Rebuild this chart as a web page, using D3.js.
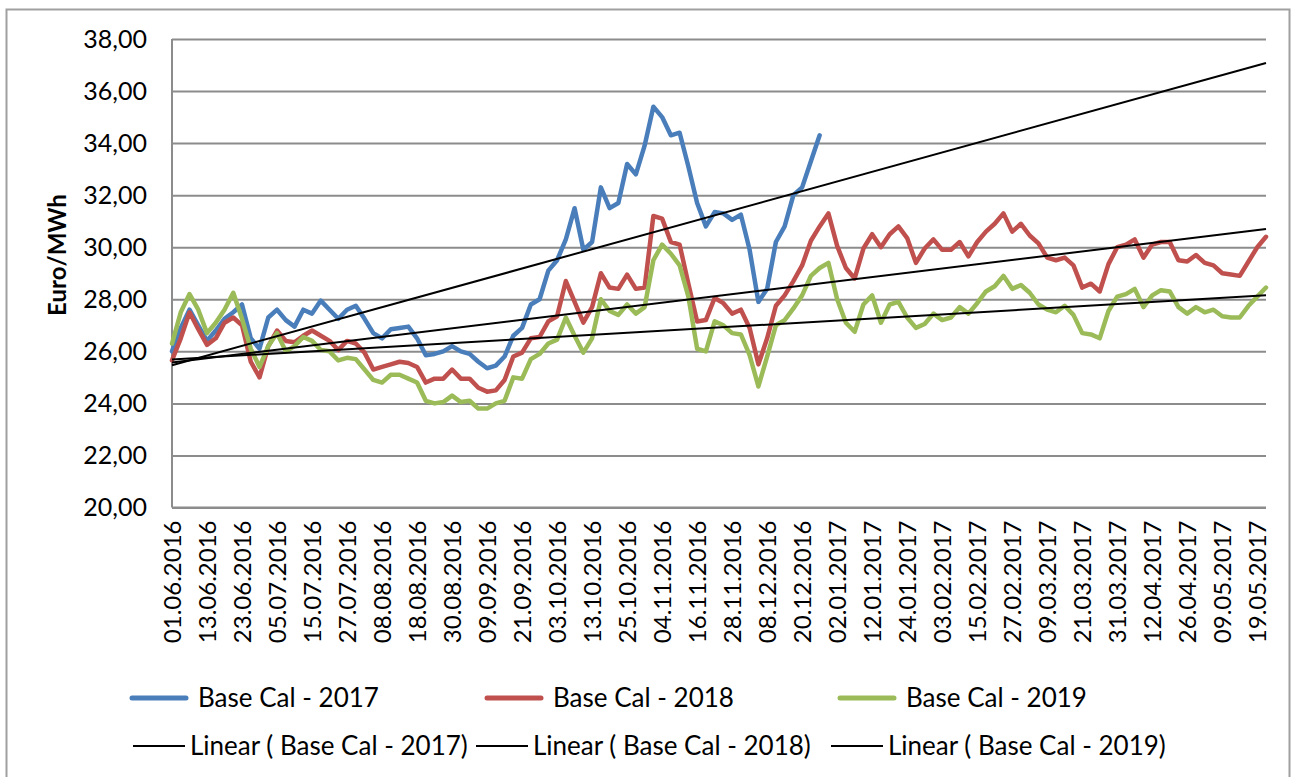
<!DOCTYPE html>
<html lang="de">

<head>
	<title>Base Cal 2017-2019</title>
	<meta charset="utf-8">
	<script src="https://d3js.org/d3.v7.min.js"></script>
	<style>
		body { margin: 0; background: #fff; }
		svg { display: block; font-family: Lato, "Open Sans", sans-serif; }
		.grid line { stroke: #8c8c8c; stroke-width: 2; }
		.grid .domain { display: none; }
	</style>
</head>

<body>
	<div id="chart"></div>
	<script>
		// Data (one value every second trading day, starting 01.06.2016)
		const tickLabels = ["01.06.2016", "13.06.2016", "23.06.2016", "05.07.2016", "15.07.2016", "27.07.2016",
			"08.08.2016", "18.08.2016", "30.08.2016", "09.09.2016", "21.09.2016", "03.10.2016", "13.10.2016",
			"25.10.2016", "04.11.2016", "16.11.2016", "28.11.2016", "08.12.2016", "20.12.2016", "02.01.2017",
			"12.01.2017", "24.01.2017", "03.02.2017", "15.02.2017", "27.02.2017", "09.03.2017", "21.03.2017",
			"31.03.2017", "12.04.2017", "26.04.2017", "09.05.2017", "19.05.2017"];
		const labelStep = 8;   // trading days between axis labels
		const sampleStep = 2;  // trading days between stored values
		const lastDay = 250;

		const base2017 = [26.0, 26.9, 27.6, 27.0, 26.4, 26.8, 27.25, 27.5, 27.8, 26.5,
			26.1, 27.3, 27.6, 27.2, 26.95, 27.6, 27.45, 27.95, 27.6, 27.25,
			27.6, 27.75, 27.25, 26.7, 26.5, 26.85, 26.9, 26.95, 26.5, 25.85,
			25.9, 26.0, 26.2, 26.0, 25.9, 25.6, 25.35, 25.45, 25.8, 26.6,
			26.9, 27.8, 28.0, 29.1, 29.5, 30.3, 31.5, 29.9, 30.2, 32.3,
			31.5, 31.7, 33.2, 32.8, 33.9, 35.4, 35.0, 34.3, 34.4, 33.1,
			31.7, 30.8, 31.35, 31.3, 31.05, 31.25, 29.9, 27.9, 28.4, 30.2,
			30.8, 32.0, 32.3, 33.3, 34.3];

		const base2018 = [25.65, 26.5, 27.5, 26.85, 26.25, 26.5, 27.1, 27.3, 27.0, 25.6,
			25.0, 26.2, 26.8, 26.4, 26.35, 26.6, 26.8, 26.6, 26.4, 26.05,
			26.4, 26.3, 25.95, 25.3, 25.4, 25.5, 25.6, 25.55, 25.4, 24.8,
			24.95, 24.95, 25.3, 24.95, 24.95, 24.6, 24.45, 24.5, 24.9, 25.8,
			25.95, 26.5, 26.55, 27.15, 27.35, 28.7, 27.9, 27.1, 27.7, 29.0,
			28.45, 28.4, 28.95, 28.4, 28.45, 31.2, 31.1, 30.2, 30.1, 28.6,
			27.15, 27.2, 28.05, 27.85, 27.45, 27.6, 26.9, 25.5, 26.5, 27.75,
			28.15, 28.7, 29.3, 30.25, 30.8, 31.3, 30.05, 29.2, 28.8, 29.95,
			30.5, 30.0, 30.5, 30.8, 30.35, 29.4, 29.95, 30.3, 29.9, 29.9,
			30.2, 29.65, 30.2, 30.6, 30.9, 31.3, 30.6, 30.9, 30.45, 30.15,
			29.6, 29.5, 29.6, 29.3, 28.45, 28.6, 28.3, 29.35, 30.0, 30.1,
			30.3, 29.6, 30.1, 30.2, 30.2, 29.5, 29.45, 29.7, 29.4, 29.3,
			29.0, 28.95, 28.9, 29.45, 30.0, 30.4];

		const base2019 = [26.3, 27.5, 28.2, 27.6, 26.7, 27.1, 27.6, 28.25, 27.25, 26.1,
			25.4, 26.2, 26.7, 26.0, 26.2, 26.55, 26.4, 26.05, 26.0, 25.65,
			25.75, 25.7, 25.3, 24.9, 24.8, 25.1, 25.1, 24.95, 24.8, 24.1,
			24.0, 24.05, 24.3, 24.05, 24.1, 23.8, 23.8, 24.0, 24.1, 25.0,
			24.95, 25.7, 25.9, 26.3, 26.45, 27.3, 26.6, 25.95, 26.5, 28.0,
			27.55, 27.4, 27.8, 27.45, 27.7, 29.5, 30.1, 29.75, 29.3, 28.1,
			26.1, 26.0, 27.15, 27.0, 26.7, 26.65, 25.85, 24.65, 25.8, 27.0,
			27.2, 27.65, 28.15, 28.9, 29.2, 29.4, 28.0, 27.1, 26.75, 27.8,
			28.15, 27.1, 27.8, 27.9, 27.3, 26.9, 27.05, 27.45, 27.2, 27.3,
			27.7, 27.45, 27.85, 28.3, 28.5, 28.9, 28.4, 28.55, 28.25, 27.8,
			27.6, 27.5, 27.75, 27.4, 26.7, 26.65, 26.5, 27.55, 28.1, 28.2,
			28.4, 27.7, 28.15, 28.35, 28.3, 27.7, 27.45, 27.7, 27.5, 27.6,
			27.35, 27.3, 27.3, 27.75, 28.1, 28.45];

		const seriesNames = ["Base Cal - 2017", "Base Cal - 2018", "Base Cal - 2019"];
		const seriesValues = [base2017, base2018, base2019];
		const seriesColors = ["#4a7ebb", "#c0504d", "#9bbb59"];

		// Chart dimensions
		const width = 1297;
		const height = 777;
		const margin = { top: 39, right: 31, bottom: 269.5, left: 172 };
		const innerWidth = width - margin.left - margin.right;
		const innerHeight = height - margin.top - margin.bottom;

		const svg = d3.select("#chart")
			.append("svg")
			.attr("width", width)
			.attr("height", height);

		// chart border: top, left and right edges (bottom edge is outside the picture)
		svg.append("path")
			.attr("d", `M6.5,${height} V9.5 H1289.5 V${height}`)
			.style("fill", "none")
			.style("stroke", "#a0a0a0")
			.style("stroke-width", 2);

		const bounds = svg.append("g")
			.attr("transform", `translate(${margin.left},${margin.top})`);

		// Scales
		const x = d3.scaleLinear()
			.domain([0, lastDay])
			.range([0, innerWidth]);

		const y = d3.scaleLinear()
			.domain([20, 38])
			.range([innerHeight, 0]);

		const series = seriesValues.map((vals, i) => ({
			name: seriesNames[i],
			color: seriesColors[i],
			points: vals.map((v, j) => ({ day: j * sampleStep, value: v }))
		}));

		// Gridlines
		const yTicks = d3.range(20, 38.01, 2);
		bounds.append("g")
			.attr("class", "grid")
			.call(d3.axisLeft(y).tickValues(yTicks).tickSize(-innerWidth).tickFormat(""));

		// Axis lines
		bounds.append("line")
			.attr("x1", 0).attr("x2", 0)
			.attr("y1", 0).attr("y2", innerHeight)
			.style("stroke", "#8c8c8c").style("stroke-width", 2);
		bounds.append("line")
			.attr("x1", 0).attr("x2", innerWidth)
			.attr("y1", innerHeight).attr("y2", innerHeight)
			.style("stroke", "#8c8c8c").style("stroke-width", 2);

		// Y axis labels
		const yAxis = bounds.append("g")
			.call(d3.axisLeft(y)
				.tickValues(yTicks)
				.tickSize(0)
				.tickPadding(25)
				.tickFormat(d => d.toFixed(2).replace(".", ",")));
		yAxis.select(".domain").remove();
		yAxis.selectAll("text")
			.style("font-family", "Lato, sans-serif")
			.style("font-size", "25px")
			.style("fill", "#000");

		// X axis labels (rotated)
		const xAxis = bounds.append("g")
			.attr("transform", `translate(0,${innerHeight})`)
			.call(d3.axisBottom(x)
				.tickValues(tickLabels.map((d, i) => i * labelStep))
				.tickSize(0)
				.tickFormat((d, i) => tickLabels[i]));
		xAxis.select(".domain").remove();
		xAxis.selectAll("text")
			.attr("transform", "rotate(-90)")
			.attr("x", -13)
			.attr("y", 0)
			.attr("dy", "0.36em")
			.style("text-anchor", "end")
			.style("font-family", "Lato, sans-serif")
			.style("font-size", "24px")
			.style("fill", "#000");

		// Y axis title
		svg.append("text")
			.attr("transform", "translate(66, 255) rotate(-90)")
			.attr("text-anchor", "middle")
			.style("font-size", "24px")
			.style("font-weight", "bold")
			.style("fill", "#000")
			.text("Euro/MWh");

		// Lines
		const line = d3.line()
			.x(d => x(d.day))
			.y(d => y(d.value));

		bounds.selectAll(".series")
			.data(series)
			.enter().append("path")
			.attr("class", "series")
			.attr("d", d => line(d.points))
			.style("fill", "none")
			.style("stroke", d => d.color)
			.style("stroke-width", 4.5)
			.style("stroke-linejoin", "round")
			.style("stroke-linecap", "round");

		// Linear trend lines (least squares over the days with values)
		function linearFit(points) {
			const mx = d3.mean(points, d => d.day);
			const my = d3.mean(points, d => d.value);
			const sxy = d3.sum(points, d => (d.day - mx) * (d.value - my));
			const sxx = d3.sum(points, d => (d.day - mx) ** 2);
			const slope = sxy / sxx;
			return day => my + slope * (day - mx);
		}

		bounds.selectAll(".trend")
			.data(series)
			.enter().append("line")
			.attr("class", "trend")
			.each(function (d) {
				const f = linearFit(d.points);
				d3.select(this)
					.attr("x1", x(0)).attr("y1", y(f(0)))
					.attr("x2", x(lastDay)).attr("y2", y(f(lastDay)));
			})
			.style("stroke", "#000")
			.style("stroke-width", 2);

		// Legend
		const legendRow1 = [132, 487, 840];
		const legendRow2 = [133, 476, 831];

		const leg1 = svg.selectAll(".leg1")
			.data(series)
			.enter().append("g")
			.attr("class", "leg1")
			.attr("transform", (d, i) => `translate(${legendRow1[i]}, 698)`);
		leg1.append("line")
			.attr("x1", 0).attr("x2", 54)
			.style("stroke", d => d.color)
			.style("stroke-width", 5)
			.style("stroke-linecap", "round");
		leg1.append("text")
			.attr("x", 66)
			.attr("dy", "0.36em")
			.style("font-size", "26px")
			.style("fill", "#000")
			.text(d => d.name);

		const leg2 = svg.selectAll(".leg2")
			.data(series)
			.enter().append("g")
			.attr("class", "leg2")
			.attr("transform", (d, i) => `translate(${legendRow2[i]}, 746)`);
		leg2.append("line")
			.attr("x1", 0).attr("x2", 52)
			.style("stroke", "#000")
			.style("stroke-width", 2);
		leg2.append("text")
			.attr("x", 57)
			.attr("dy", "0.36em")
			.style("font-size", "26px")
			.style("fill", "#000")
			.text(d => `Linear ( ${d.name})`);
	</script>
</body>

</html>
